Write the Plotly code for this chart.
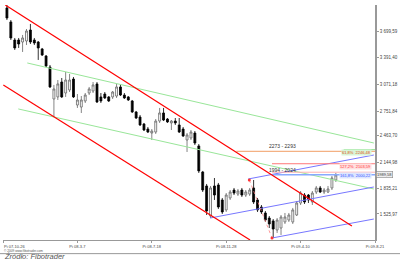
import plotly.graph_objects as go

# ---- weekly candles (week index from 2007-10-26) ----
weeks = list(range(1, 86))
opens = [3982, 3815, 3600, 3600, 3576, 3588, 3719, 3600, 3576, 3493,
         3409, 3278, 2897, 2921, 3099, 2968, 3004, 3135, 2825, 2801,
         2873, 2968, 2992, 3076, 2921, 2956, 2921, 2921, 2932, 3040,
         2944, 2921, 2873, 2742, 2682, 2599, 2539, 2491, 2503, 2634,
         2730, 2658, 2611, 2634, 2587, 2539, 2408, 2432, 2491, 2337,
         2027, 1860, 1502, 1860, 1872, 1693, 1574, 1717, 1812, 1764,
         1812, 1752, 1764, 1836, 1693, 1609, 1538, 1478, 1443, 1335,
         1359, 1431, 1454, 1431, 1514, 1657, 1752, 1752, 1669, 1788,
         1836, 1788, 1788, 1836, 1931]
highs = [4017, 3838, 3624, 3624, 3660, 3731, 3791, 3624, 3588, 3505,
         3421, 3302, 3064, 3123, 3147, 3219, 3195, 3159, 2956, 2932,
         2968, 3040, 3099, 3099, 2968, 2980, 2932, 2992, 3076, 3064,
         2968, 2932, 2885, 2754, 2706, 2611, 2563, 2539, 2658, 2790,
         2790, 2670, 2646, 2670, 2670, 2563, 2491, 2527, 2515, 2360,
         2039, 1884, 1860, 1955, 1896, 1717, 1776, 1812, 1836, 1824,
         1836, 1812, 1836, 1931, 1717, 1633, 1562, 1502, 1466, 1478,
         1514, 1538, 1538, 1598, 1681, 1800, 1776, 1764, 1800, 1860,
         1860, 1836, 1860, 1979, 2015]
lows = [3838, 3600, 3481, 3505, 3457, 3540, 3552, 3540, 3362, 3409,
        3278, 3028, 2682, 2885, 2909, 2921, 2980, 2909, 2790, 2730,
        2849, 2944, 2968, 2849, 2849, 2897, 2861, 2897, 2909, 2932,
        2897, 2873, 2730, 2658, 2575, 2515, 2491, 2408, 2480, 2611,
        2634, 2611, 2527, 2587, 2491, 2444, 2265, 2408, 2348, 2015,
        1788, 1514, 1478, 1693, 1586, 1526, 1550, 1693, 1752, 1741,
        1729, 1729, 1741, 1645, 1550, 1526, 1431, 1359, 1240, 1300,
        1276, 1407, 1431, 1407, 1502, 1633, 1645, 1657, 1633, 1764,
        1776, 1764, 1776, 1812, 1908]
closes = [3862, 3624, 3505, 3552, 3624, 3707, 3576, 3564, 3505, 3421,
          3290, 3040, 3016, 3076, 2921, 3123, 3123, 2921, 2885, 2885,
          2944, 3016, 3064, 2861, 2873, 2909, 2873, 2980, 3040, 2944,
          2909, 2885, 2742, 2670, 2587, 2527, 2503, 2515, 2634, 2730,
          2646, 2623, 2634, 2611, 2503, 2456, 2468, 2503, 2372, 2039,
          1812, 1562, 1836, 1752, 1609, 1550, 1752, 1788, 1776, 1800,
          1752, 1788, 1812, 1669, 1574, 1550, 1454, 1407, 1347, 1454,
          1490, 1490, 1514, 1574, 1657, 1776, 1669, 1693, 1776, 1836,
          1788, 1812, 1824, 1955, 1991]

# ---- axes ----
x_tick_vals = [0, 19, 38, 57, 76, 95]
x_tick_text = ["Pi 07-10-26", "Pi 08-3-7", "Pi 08-7-18", "Pi 08-11-28", "Pi 09-4-10", "Pi 09-8-21"]
y_tick_vals = [1525.97, 1835.21, 2144.98, 2463.70, 2751.84, 3071.18, 3391.40, 3699.59]
y_tick_text = ["1 525,97", "1 835,21", "2 144,98", "2 463,70", "2 751,84", "3 071,18", "3 391,40", "3 699,59"]

# ---- trend lines (week, price) ----
red_upper_x, red_upper_y = [0.59, 89.1], [4017, 1383]
red_lower_x, red_lower_y = [0.08, 63.1], [3064, 1216]
green_upper_x, green_upper_y = [6.2, 94.7], [3326, 2372]
green_lower_x, green_lower_y = [3.9, 94.7], [2778, 1824]
blue_upper_x, blue_upper_y = [62.6, 94.7], [1943, 2229]
blue_mid_x, blue_mid_y = [52.9, 94.7], [1478, 1848]
blue_lower_x, blue_lower_y = [68.7, 94.7], [1240, 1466]
swing_x, swing_y = [62.9, 68.7], [1931, 1240]

# ---- horizontal levels ----
zone_hi = [2273, 2293]
zone_lo = [1994, 2024]
fib_red = 2125
fib_labels = ["61,8%  2246,48", "127,2%  2103,59", "161,8%  2000,22"]
last_price = "1989,58"

fig = go.Figure()

def line(x, y, color, width=1.2, dash="solid"):
    fig.add_trace(go.Scatter(x=x, y=y, mode="lines", hoverinfo="skip",
                             line=dict(color=color, width=width, dash=dash)))

line(green_upper_x, green_upper_y, "#99e699", 1)
line(green_lower_x, green_lower_y, "#99e699", 1)
line(blue_upper_x, blue_upper_y, "#7777ff", 1)
line(blue_mid_x, blue_mid_y, "#7777ff", 1)
line(blue_lower_x, blue_lower_y, "#7777ff", 1)
line([59.6, 95], [zone_hi[0]] * 2, "#f4b183", 1.2)
line([87.0, 95], [zone_hi[1]] * 2, "#99e699", 1.2)
line([68.7, 95], [fib_red] * 2, "#ff7777", 1)
line([68.7, 95], [zone_lo[1]] * 2, "#ffb0b0", 1)
line([68.7, 95], [zone_lo[0]] * 2, "#88aaff", 1.5)
line(swing_x, swing_y, "#ff8080", 0.8, "dot")

fig.add_trace(go.Candlestick(
    x=weeks, open=opens, high=highs, low=lows, close=closes,
    increasing=dict(line=dict(color="#666666", width=0.8), fillcolor="#ffffff"),
    decreasing=dict(line=dict(color="#000000", width=0.8), fillcolor="#000000"),
    whiskerwidth=0, hoverinfo="skip"))

line(red_upper_x, red_upper_y, "#ff0000", 1.2)
line(red_lower_x, red_lower_y, "#ff0000", 1.2)
fig.add_trace(go.Scatter(x=swing_x, y=swing_y, mode="markers", hoverinfo="skip",
                         marker=dict(color="#ff3333", size=3)))

small = dict(family="Liberation Sans, Arial, sans-serif", size=4.5, color="#444444")
anns = [
    dict(x=71.5, y=2331, text="2273 - 2293", showarrow=False, font=dict(small, size=5, color="#333")),
    dict(x=71.3, y=2052, text="1994 - 2024", showarrow=False, font=dict(small, size=5, color="#333")),
    dict(x=94.2, y=2262, text=fib_labels[0], showarrow=False, xanchor="right", bgcolor="#d8f5d8",
         borderpad=0, font=dict(small, size=4, color="#e05010")),
    dict(x=94.2, y=2098, text=fib_labels[1], showarrow=False, xanchor="right", bgcolor="#ffe0e0",
         borderpad=0, font=dict(small, size=4, color="#ff3030")),
    dict(x=94.2, y=1987, text=fib_labels[2], showarrow=False, xanchor="right", bgcolor="#dde6ff",
         borderpad=0, font=dict(small, size=4, color="#3050ff")),
    dict(xref="paper", x=1.003, y=1991, text=last_price, showarrow=False, xanchor="left",
         bordercolor="#888888", borderwidth=0.6, borderpad=0.5, bgcolor="#eeeeee",
         font=dict(small, size=4, color="#333")),
    dict(xref="paper", yref="paper", x=0.0, y=-0.012, text=x_tick_text[0], showarrow=False,
         xanchor="left", yanchor="top", borderpad=0, font=dict(small, size=4)),
    dict(xref="paper", yref="paper", x=0.0, y=-0.047, text="© 2009 www.fibotrader.com",
         showarrow=False, xanchor="left", yanchor="middle", borderpad=0,
         font=dict(small, size=3.2, color="#555")),
    dict(xref="paper", yref="paper", x=0.0, y=-0.092, text="<i>Źródło: Fibotrader</i>",
         showarrow=False, xanchor="left", yanchor="bottom", borderpad=0,
         font=dict(family="Liberation Sans, Arial, sans-serif", size=7.5, color="#555")),
]

fig.update_layout(
    width=400, height=262, margin=dict(l=3, r=25, t=5, b=22),
    paper_bgcolor="white", plot_bgcolor="white", showlegend=False,
    annotations=anns,
    shapes=[dict(type="line", xref="paper", yref="paper", x0=-0.01, x1=1.07, y0=-0.058, y1=-0.058,
                 line=dict(color="#999999", width=1))],
    xaxis=dict(range=[0, 95], tickvals=x_tick_vals, ticktext=[""] + x_tick_text[1:], showgrid=False,
               zeroline=False, showline=True, linecolor="#999999", linewidth=1,
               ticks="outside", ticklen=2, tickcolor="#999999", tickfont=dict(small, size=4),
               rangeslider=dict(visible=False)),
    yaxis=dict(range=[1216, 4017], side="right", tickvals=y_tick_vals, ticktext=y_tick_text,
               showgrid=False, zeroline=False, showline=True, linecolor="#999999", linewidth=1.5,
               ticks="outside", ticklen=2, tickcolor="#999999", tickfont=small),
)

fig.write_html("out.html")
